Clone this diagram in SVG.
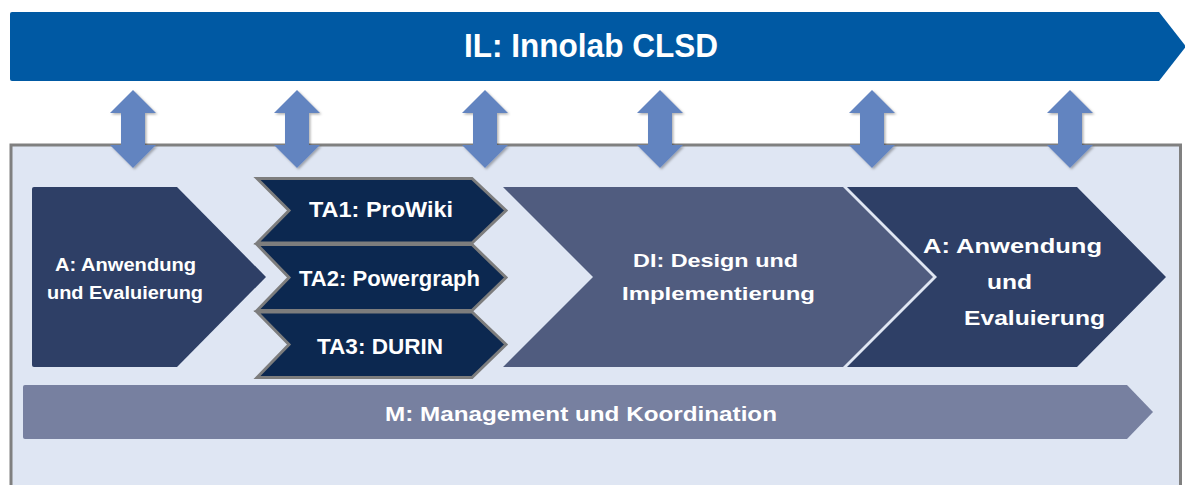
<svg xmlns="http://www.w3.org/2000/svg" xmlns:xlink="http://www.w3.org/1999/xlink" width="1185" height="485" viewBox="0 0 1185 485">
  <style>
    .lbl { font-family: "Liberation Sans", Arial, sans-serif; font-weight: bold; fill: #ffffff; }
    .banner { fill: #0059a3; }
    .frame { fill: #dfe6f3; stroke: #808080; stroke-width: 3; }
    .phase-a { fill: #2e3f66; }
    .phase-di { fill: #505c7f; }
    .task { fill: #0c2850; stroke: #7d7d7d; stroke-width: 3; stroke-linejoin: miter; }
    .mgmt { fill: #7780a0; }
    .link { fill: #6284c0; filter: url(#soft); }
  </style>
  <defs>
    <filter id="soft" x="-30%" y="-20%" width="160%" height="140%">
      <feDropShadow dx="1.5" dy="1.5" stdDeviation="1.2" flood-color="#000000" flood-opacity="0.3"/>
    </filter>
    <!-- two-headed vertical arrow, centred on x = 0 -->
    <path id="dblArrow" d="M0,90 L23,113 L12,113 L12,145 L23,145 L0,168 L-23,145 L-12,145 L-12,113 L-23,113 Z"/>
  </defs>

  <!-- top banner -->
  <g id="innolab">
    <path class="banner" d="M12,12 H1159 L1186,46.5 L1159,81 H12 Q10,81 10,79 V14 Q10,12 12,12 Z"/>
    <text class="lbl" x="464" y="57" font-size="34" textLength="254" lengthAdjust="spacingAndGlyphs">IL: Innolab CLSD</text>
  </g>

  <!-- project frame -->
  <g id="frame">
    <rect class="frame" x="11" y="145" width="1169.5" height="360"/>
  </g>

  <!-- links between banner and frame -->
  <g id="connectors">
    <use xlink:href="#dblArrow" href="#dblArrow" class="link" x="133"/>
    <use xlink:href="#dblArrow" href="#dblArrow" class="link" x="297"/>
    <use xlink:href="#dblArrow" href="#dblArrow" class="link" x="485"/>
    <use xlink:href="#dblArrow" href="#dblArrow" class="link" x="660"/>
    <use xlink:href="#dblArrow" href="#dblArrow" class="link" x="872"/>
    <use xlink:href="#dblArrow" href="#dblArrow" class="link" x="1070"/>
  </g>

  <!-- first application phase -->
  <g id="phase-a1">
    <path class="phase-a" d="M34,187 H177 L266,277 L177,367 H34 Q32,367 32,365 V189 Q32,187 34,187 Z"/>
    <text class="lbl" x="55" y="271" font-size="17.5" textLength="141" lengthAdjust="spacingAndGlyphs">A: Anwendung</text>
    <text class="lbl" x="47" y="299" font-size="17.5" textLength="156" lengthAdjust="spacingAndGlyphs">und Evaluierung</text>
  </g>

  <!-- sub-projects -->
  <g id="ta1">
    <path class="task" d="M257,178.5 H472 L506,210.5 L472,243 H257 L289,210.5 Z"/>
    <text class="lbl" x="309" y="217" font-size="21.5" textLength="144" lengthAdjust="spacingAndGlyphs">TA1: ProWiki</text>
  </g>
  <g id="ta2">
    <path class="task" d="M257,244.5 H472 L506,277.5 L472,310.5 H257 L289,277.5 Z"/>
    <text class="lbl" x="299" y="286" font-size="21.5" textLength="181" lengthAdjust="spacingAndGlyphs">TA2: Powergraph</text>
  </g>
  <g id="ta3">
    <path class="task" d="M257,312 H472 L506,344.5 L472,377.5 H257 L289,344.5 Z"/>
    <text class="lbl" x="317" y="354" font-size="21.5" textLength="126" lengthAdjust="spacingAndGlyphs">TA3: DURIN</text>
  </g>

  <!-- design and implementation -->
  <g id="phase-di">
    <path class="phase-di" d="M503,187 H843 L933,277 L843,367 H503 L593,277 Z"/>
    <text class="lbl" x="633" y="267" font-size="19" textLength="165" lengthAdjust="spacingAndGlyphs">DI: Design und</text>
    <text class="lbl" x="622" y="300" font-size="19" textLength="193" lengthAdjust="spacingAndGlyphs">Implementierung</text>
  </g>

  <!-- second application phase -->
  <g id="phase-a2">
    <path class="phase-a" d="M847,187 H1077 L1166,277 L1077,367 H847 L937,277 Z"/>
    <text class="lbl" x="923" y="253" font-size="19.5" textLength="179" lengthAdjust="spacingAndGlyphs">A: Anwendung</text>
    <text class="lbl" x="987" y="289" font-size="19.5" textLength="45" lengthAdjust="spacingAndGlyphs">und</text>
    <text class="lbl" x="964" y="325" font-size="19.5" textLength="141" lengthAdjust="spacingAndGlyphs">Evaluierung</text>
  </g>

  <!-- management bar -->
  <g id="management">
    <path class="mgmt" d="M25,385 H1127 L1153,412 L1127,439 H25 Q23,439 23,437 V387 Q23,385 25,385 Z"/>
    <text class="lbl" x="385" y="421" font-size="21" textLength="392" lengthAdjust="spacingAndGlyphs">M: Management und Koordination</text>
  </g>
</svg>
